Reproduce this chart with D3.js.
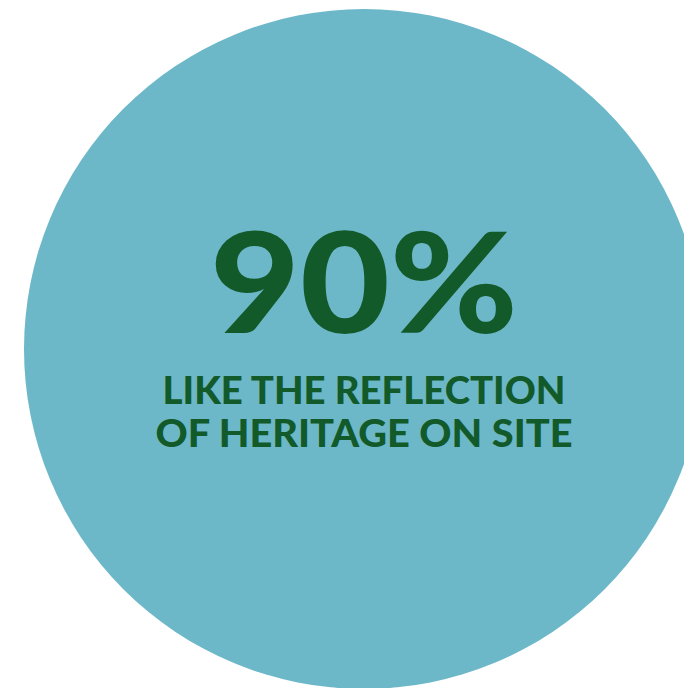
<!DOCTYPE html>
<html>
<head>
<meta charset="utf-8">
<script src="https://cdn.jsdelivr.net/npm/d3@7"></script>
<style>
html,body{margin:0;padding:0;background:#fff;overflow:hidden;}
</style>
</head>
<body>
<script>
// Data
const statValues = [90];
const statSuffix = ["%"];
const labelLines = ["LIKE THE REFLECTION", "OF HERITAGE ON SITE"];

const W = 684, H = 688;
const svg = d3.select("body").append("svg").attr("width", W).attr("height", H);

const cx = 364, cy = 349, r = 340;
const circleColor = "#6cb8c9";
const textColor = "#135a2b";

// circle as a full pie slice of the single value share
const arc = d3.arc().innerRadius(0).outerRadius(r);
const pie = d3.pie().sort(null)([1]);
svg.append("g").attr("transform", `translate(${cx},${cy})`)
  .selectAll("path").data(pie).join("path")
  .attr("d", arc).attr("fill", circleColor);

const fmt = d3.format("d");
svg.selectAll("text.big").data(statValues).join("text")
  .attr("class", "big")
  .attr("x", cx).attr("y", 333)
  .attr("text-anchor", "middle")
  .attr("font-family", "Lato, 'Open Sans', sans-serif")
  .attr("font-weight", 900)
  .attr("font-size", 139)
  .attr("fill", textColor)
  .attr("textLength", 308)
  .attr("lengthAdjust", "spacingAndGlyphs")
  .text((d, i) => fmt(d) + statSuffix[i]);

const lineY = [404, 447];
const lineW = [403, 417];
svg.selectAll("text.lbl").data(labelLines).join("text")
  .attr("class", "lbl")
  .attr("x", cx).attr("y", (d, i) => lineY[i])
  .attr("text-anchor", "middle")
  .attr("font-family", "Lato, 'Open Sans', sans-serif")
  .attr("font-weight", 900)
  .attr("font-size", 37)
  .attr("fill", textColor)
  .attr("textLength", (d, i) => lineW[i])
  .attr("lengthAdjust", "spacingAndGlyphs")
  .text(d => d);
</script>
</body>
</html>
